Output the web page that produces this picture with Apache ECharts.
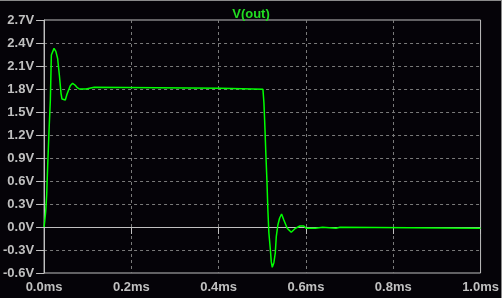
<!DOCTYPE html>
<html>
<head>
<meta charset="utf-8">
<script src="https://cdn.jsdelivr.net/npm/echarts@6/dist/echarts.min.js"></script>
<style>
html,body{margin:0;padding:0;background:#050308;}
#c{width:502px;height:298px;}
</style>
</head>
<body>
<div id="c"></div>
<script>
// Time in ms
const timeMs = [
  0, 0.0014, 0.0037, 0.006, 0.0082, 0.0114, 0.0144, 0.0167, 0.0228, 0.0242,
  0.027, 0.031, 0.035, 0.0388, 0.041, 0.0448, 0.0486, 0.0525, 0.0562, 0.060,
  0.0653, 0.0707, 0.0753, 0.0806, 0.096, 0.0995, 0.115, 0.118, 0.405, 0.407,
  0.5014, 0.5037, 0.506, 0.5082, 0.5105, 0.5128, 0.515, 0.5183, 0.5205, 0.5228,
  0.5265, 0.5297, 0.532, 0.5356, 0.5395, 0.5441, 0.5493, 0.557, 0.5662, 0.576,
  0.5858, 0.595, 0.6005, 0.6217, 0.624, 0.638, 0.640, 0.669, 0.671, 0.678,
  0.680, 1.0
];
// Voltage V(out) in volts
const voltage = [
  0, 0.07, 0.2, 0.417, 0.787, 1.265, 1.657, 2.243, 2.33, 2.33,
  2.29, 2.2, 1.983, 1.744, 1.67, 1.644, 1.657, 1.731, 1.787, 1.843,
  1.874, 1.852, 1.822, 1.80, 1.80, 1.822, 1.822, 1.809, 1.809, 1.796,
  1.796, 1.617, 1.291, 0.939, 0.613, 0.212, -0.075, -0.287, -0.452, -0.525,
  -0.466, -0.339, -0.126, 0.026, 0.114, 0.17, 0.091, -0.017, -0.069, -0.017,
  0.013, 0.013, -0.017, -0.017, -0.004, -0.004, -0.017, -0.017, -0.004, -0.004,
  -0.017, -0.017
];
const xTickLabels = ['0.0ms', '0.2ms', '0.4ms', '0.6ms', '0.8ms', '1.0ms'];
const yTickLabels = ['-0.6V', '-0.3V', '0.0V', '0.3V', '0.6V', '0.9V', '1.2V', '1.5V', '1.8V', '2.1V', '2.4V', '2.7V'];
const seriesName = 'V(out)';

const points = timeMs.map((t, i) => [t, voltage[i]]);
const fontFam = '"Liberation Sans", Arial, sans-serif';
const chart = echarts.init(document.getElementById('c'), null, {renderer: 'canvas'});
chart.setOption({
  animation: false,
  backgroundColor: '#050308',
  title: {
    text: seriesName, left: 'center', top: 3,
    textStyle: {color: '#22dd22', fontSize: 13, fontWeight: 'bold', fontFamily: fontFam}
  },
  grid: {left: 43, right: 21, top: 20, bottom: 25, show: true, borderColor: '#c0c0c0', borderWidth: 1},
  graphic: [
    {type: 'line', shape: {x1: 0, y1: 0.5, x2: 502, y2: 0.5}, style: {stroke: '#8a8a8a', lineWidth: 1}},
    {type: 'line', shape: {x1: 501.5, y1: 0, x2: 501.5, y2: 298}, style: {stroke: '#8a8a8a', lineWidth: 1}}
  ],
  xAxis: {
    type: 'value', min: 0, max: 1.0, interval: 0.2,
    axisLine: {lineStyle: {color: '#c0c0c0', width: 1}},
    axisTick: {show: true, inside: false, length: 7, lineStyle: {color: '#c0c0c0'}},
    axisLabel: {
      color: '#c0c0c0', fontSize: 13, fontWeight: 'bold', fontFamily: fontFam, margin: 8,
      showMinLabel: true, showMaxLabel: true,
      formatter: (v) => xTickLabels[Math.round(v / 0.2)]
    },
    splitLine: {show: true, showMinLine: false, showMaxLine: false, lineStyle: {color: '#7a7a7a', type: [3, 3], width: 1}}
  },
  yAxis: {
    type: 'value', min: -0.6, max: 2.7, interval: 0.3,
    axisLine: {show: true, lineStyle: {color: '#c0c0c0', width: 1}},
    axisTick: {show: true, inside: false, length: 8, lineStyle: {color: '#c0c0c0'}},
    axisLabel: {
      color: '#c0c0c0', fontSize: 13, fontWeight: 'bold', fontFamily: fontFam, margin: 10,
      showMinLabel: true, showMaxLabel: true,
      formatter: (v) => yTickLabels[Math.round((v + 0.6) / 0.3)]
    },
    splitLine: {show: true, showMinLine: false, showMaxLine: false, lineStyle: {color: '#7a7a7a', type: [3, 3], width: 1}}
  },
  series: [{
    name: seriesName, type: 'line', data: points, showSymbol: false,
    lineStyle: {color: '#00ff00', width: 1.5}, itemStyle: {color: '#00ff00'}
  }]
});
</script>
</body>
</html>
